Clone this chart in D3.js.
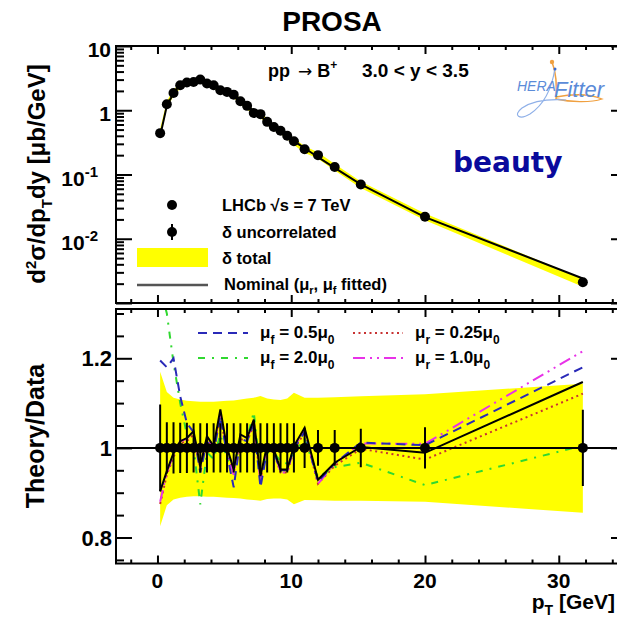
<!DOCTYPE html>
<html>
<head>
<meta charset="utf-8">
<script src="https://cdn.jsdelivr.net/npm/d3@7"></script>
<style>
  html, body { margin: 0; padding: 0; background: #fff; }
  svg { display: block; }
  text { font-family: "Liberation Sans", Arial, Helvetica, sans-serif; font-weight: bold; fill: #000; }
</style>
</head>
<body>
<svg id="chart" width="617" height="625"></svg>
<script>
// ---------------- data ----------------
const pT = [0.2, 0.7, 1.2, 1.7, 2.2, 2.7, 3.2, 3.7, 4.2, 4.7, 5.2, 5.7, 6.2, 6.7, 7.2, 7.7, 8.2, 8.7, 9.2, 9.7, 10.2, 11.0, 12.0, 13.25, 15.2, 20.0, 31.8];
const xsec = [0.44, 1.24, 1.86, 2.45, 2.7, 2.76, 3.0, 2.6, 2.45, 2.05, 1.93, 1.75, 1.38, 1.17, 0.91, 0.87, 0.66, 0.55, 0.48, 0.40, 0.33, 0.247, 0.20, 0.131, 0.070, 0.022, 0.0021];
const errUncorr = [0.097, 0.057, 0.057, 0.056, 0.056, 0.055, 0.055, 0.055, 0.055, 0.055, 0.055, 0.055, 0.055, 0.055, 0.055, 0.055, 0.055, 0.055, 0.055, 0.055, 0.055, 0.045, 0.040, 0.040, 0.043, 0.046, 0.085];
const totHi = [1.17, 1.125, 1.112, 1.108, 1.105, 1.104, 1.103, 1.103, 1.103, 1.104, 1.105, 1.106, 1.108, 1.110, 1.112, 1.116, 1.110, 1.108, 1.107, 1.110, 1.123, 1.112, 1.112, 1.113, 1.115, 1.120, 1.143];
const totLo = [0.825, 0.872, 0.885, 0.889, 0.891, 0.892, 0.892, 0.891, 0.891, 0.890, 0.889, 0.888, 0.887, 0.885, 0.884, 0.882, 0.886, 0.887, 0.887, 0.885, 0.874, 0.884, 0.883, 0.882, 0.882, 0.880, 0.855];
const rNominal = [0.903, 0.948, 0.989, 1.015, 1.022, 1.037, 0.959, 1.026, 1.004, 1.086, 1.0, 0.952, 1.030, 1.022, 1.063, 0.937, 1.007, 0.996, 0.952, 0.952, 1.004, 1.045, 0.929, 0.967, 1.002, 0.989, 1.147];
const rMuf05 = [1.195, 1.18, 1.20, 1.115, 1.055, 1.035, 0.945, 1.015, 0.99, 1.07, 0.985, 0.912, 1.02, 1.015, 1.055, 0.912, 0.995, 0.99, 0.95, 0.95, 1.0, 1.035, 0.925, 0.965, 1.012, 1.006, 1.18];
const rMuf20 = [1.36, 1.30, 1.19, 1.10, 1.03, 1.0, 0.874, 0.99, 0.975, 1.03, 0.975, 0.955, 1.02, 1.02, 1.08, 0.94, 0.99, 0.99, 0.97, 0.965, 0.99, 1.02, 0.935, 0.957, 0.967, 0.917, 1.005];
const rMur025 = [0.875, 0.94, 0.98, 1.01, 1.015, 1.03, 0.955, 1.02, 1.0, 1.07, 0.99, 0.945, 1.02, 1.015, 1.05, 0.93, 1.0, 0.99, 0.945, 0.945, 0.995, 1.035, 0.92, 0.96, 0.998, 0.974, 1.121];
const rMur10 = [0.88, 0.945, 0.985, 1.015, 1.02, 1.035, 0.955, 1.025, 1.0, 1.075, 0.99, 0.94, 1.025, 1.02, 1.06, 0.925, 1.0, 0.995, 0.945, 0.945, 1.0, 1.04, 0.92, 0.965, 1.01, 1.009, 1.216];
const xTickLabels = [0, 10, 20, 30];
const yTopDecades = [1e-2, 1e-1, 1, 10];
const yBotLabels = [0.8, 1.0, 1.2];

// ---------------- layout ----------------
const svg = d3.select("#chart");
const L = 116, R = 627;
const topP = {t: 46, b: 303};
const botP = {t: 309, b: 563.5};

const x = d3.scaleLinear().domain([-3.1, 35.1]).range([L, R]);
const yT = d3.scaleLog().domain([1e-3, 10]).range([topP.b, topP.t]);
const yB = d3.scaleLinear().domain([0.742, 1.31]).range([botP.b, botP.t]);

const idx = d3.range(pT.length);

// clip paths
const defs = svg.append("defs");
defs.append("clipPath").attr("id", "clipTop").append("rect")
  .attr("x", L).attr("y", topP.t).attr("width", R - L).attr("height", topP.b - topP.t);
defs.append("clipPath").attr("id", "clipBot").append("rect")
  .attr("x", L).attr("y", botP.t).attr("width", R - L).attr("height", botP.b - botP.t);

// ---------------- title ----------------
svg.append("text").attr("x", 332).attr("y", 31).attr("text-anchor", "middle")
  .style("font-size", "28px").text("PROSA");

// ---------------- upper panel ----------------
const gT = svg.append("g").attr("clip-path", "url(#clipTop)");
gT.append("path")
  .datum(idx)
  .attr("fill", "#ffff00")
  .attr("d", d3.area().x(i => x(pT[i])).y0(i => yT(xsec[i] * totLo[i])).y1(i => yT(xsec[i] * totHi[i])));
gT.append("path")
  .datum(idx)
  .attr("fill", "none").attr("stroke", "#000").attr("stroke-width", 2)
  .attr("d", d3.line().x(i => x(pT[i])).y(i => yT(xsec[i] * rNominal[i])));
gT.selectAll("line.eb").data(idx).join("line")
  .attr("x1", i => x(pT[i])).attr("x2", i => x(pT[i]))
  .attr("y1", i => yT(xsec[i] * (1 - errUncorr[i]))).attr("y2", i => yT(xsec[i] * (1 + errUncorr[i])))
  .attr("stroke", "#000").attr("stroke-width", 2);
gT.selectAll("circle").data(idx).join("circle")
  .attr("cx", i => x(pT[i])).attr("cy", i => yT(xsec[i])).attr("r", 5).attr("fill", "#000");

// axes helpers
function frame(p) {
  svg.append("rect").attr("x", L).attr("y", p.t).attr("width", R - L).attr("height", p.b - p.t)
    .attr("fill", "none").attr("stroke", "#000").attr("stroke-width", 2);
}
function xTicks(p) {
  const minor = d3.range(-2, 35, 2).filter(v => v % 10 !== 0);
  [[p.b, 1], [p.t, 0]].forEach(([yy, bottom]) => {
    const ax = bottom ? d3.axisBottom(x) : d3.axisTop(x);
    svg.append("g").attr("transform", `translate(0,${yy})`)
      .call(ax.tickValues(xTickLabels).tickSize(-8).tickFormat("")).call(g => g.select(".domain").remove())
      .selectAll("line").attr("stroke-width", 2);
    const ax2 = bottom ? d3.axisBottom(x) : d3.axisTop(x);
    svg.append("g").attr("transform", `translate(0,${yy})`)
      .call(ax2.tickValues(minor).tickSize(-4).tickFormat("")).call(g => g.select(".domain").remove())
      .selectAll("line").attr("stroke-width", 2);
  });
}
function yTicks(scale, major, minor) {
  [[L, d3.axisLeft], [R, d3.axisRight]].forEach(([xx, axf]) => {
    svg.append("g").attr("transform", `translate(${xx},0)`)
      .call(axf(scale).tickValues(major).tickSize(-16).tickFormat("")).call(g => g.select(".domain").remove())
      .selectAll("line").attr("stroke-width", 2);
    svg.append("g").attr("transform", `translate(${xx},0)`)
      .call(axf(scale).tickValues(minor).tickSize(-8).tickFormat("")).call(g => g.select(".domain").remove())
      .selectAll("line").attr("stroke-width", 2);
  });
}
const topMinor = [];
[-3, -2, -1, 0].forEach(d => { for (let k = 2; k <= 9; k++) topMinor.push(k * Math.pow(10, d)); });
yTicks(yT, [1e-3, 1e-2, 1e-1, 1, 10], topMinor);
xTicks(topP);
frame(topP);

// upper y labels
yTopDecades.forEach(v => {
  const t = svg.append("text").attr("y", yT(v) + 11).style("font-size", "21px").attr("text-anchor", "end");
  if (v >= 1) {
    t.attr("x", 111).text(v === 10 ? "10" : "1");
  } else {
    t.attr("x", 98);
    t.append("tspan").text("10");
    t.append("tspan").attr("dy", -9).style("font-size", "15px").text(String(Math.round(Math.log10(v))));
  }
});

// upper y axis title
const yl = svg.append("text").attr("transform", "translate(45,174) rotate(-90)")
  .attr("text-anchor", "middle").style("font-size", "24px");
yl.append("tspan").text("d");
yl.append("tspan").attr("dy", -9).style("font-size", "15px").text("2");
yl.append("tspan").attr("dy", 9).text("σ/dp");
yl.append("tspan").attr("dy", 7).style("font-size", "15px").text("T");
yl.append("tspan").attr("dy", -7).text("dy [μb/GeV]");

// process label
const pl = svg.append("text").attr("x", 268).attr("y", 77).style("font-size", "18px");
pl.append("tspan").text("pp");
pl.append("tspan").attr("dx", 8).style("font-family", "'DejaVu Sans', sans-serif").style("font-size", "17px")
  .style("font-weight", "normal").text("→");
pl.append("tspan").attr("dx", 5).text("B");
pl.append("tspan").attr("dy", -8).style("font-size", "12px").text("+");
svg.append("text").attr("x", 362).attr("y", 77).style("font-size", "19px").text("3.0 < y < 3.5");

// HERAFitter logo
const logo = svg.append("g");
logo.append("path").attr("d", "M552,62 C556,72 557,86 556,100").attr("fill", "none").attr("stroke", "#f0a040").attr("stroke-width", 1.5);
logo.append("path").attr("d", "M556,97 C572,94 590,94 602,99 C590,103 570,102 556,99").attr("fill", "none").attr("stroke", "#f0a040").attr("stroke-width", 1.3);
logo.append("path").attr("d", "M555,68 C552,88 545,104 530,114 C520,120 512,116 522,108 C534,100 550,99 566,100").attr("fill", "none").attr("stroke", "#8fb0e8").attr("stroke-width", 1.2);
logo.append("circle").attr("cx", 552).attr("cy", 62).attr("r", 2.2).attr("fill", "#f0a040");
logo.append("circle").attr("cx", 555).attr("cy", 69).attr("r", 1.5).attr("fill", "#3a6ad0");
logo.append("text").attr("x", 517).attr("y", 91).style("font-size", "14px").style("font-style", "italic")
  .style("font-weight", "normal").style("fill", "#5b8bd8").text("HERA");
logo.append("text").attr("x", 554).attr("y", 97).style("font-size", "22px").style("font-style", "italic")
  .style("font-weight", "normal").style("fill", "#5b8bd8").text("Fitter");

// beauty
svg.append("text").attr("x", 453).attr("y", 172).style("font-family", "'DejaVu Sans', sans-serif")
  .style("font-size", "28px").style("fill", "#0a0a9c").text("beauty");

// upper legend
const legFs = "16.5px";
svg.append("circle").attr("cx", 172).attr("cy", 205).attr("r", 5).attr("fill", "#000");
svg.append("text").attr("x", 222).attr("y", 211).style("font-size", legFs).text("LHCb  √s = 7 TeV");
svg.append("line").attr("x1", 172).attr("x2", 172).attr("y1", 224).attr("y2", 240).attr("stroke", "#000").attr("stroke-width", 2);
svg.append("circle").attr("cx", 172).attr("cy", 232).attr("r", 5).attr("fill", "#000");
svg.append("text").attr("x", 222).attr("y", 238).style("font-size", legFs).text("δ uncorrelated");
svg.append("rect").attr("x", 137).attr("y", 248).attr("width", 71).attr("height", 19).attr("fill", "#ffff00");
svg.append("text").attr("x", 222).attr("y", 264).style("font-size", legFs).text("δ total");
svg.append("line").attr("x1", 137).attr("x2", 208).attr("y1", 285).attr("y2", 285).attr("stroke", "#555").attr("stroke-width", 2.5);
const nl = svg.append("text").attr("x", 224).attr("y", 290).style("font-size", legFs);
nl.append("tspan").text("Nominal (μ");
nl.append("tspan").attr("dy", 4).style("font-size", "11px").text("r");
nl.append("tspan").attr("dy", -4).text(", μ");
nl.append("tspan").attr("dy", 4).style("font-size", "11px").text("f");
nl.append("tspan").attr("dy", -4).text(" fitted)");

// ---------------- lower panel ----------------
const gB = svg.append("g").attr("clip-path", "url(#clipBot)");
gB.append("path").datum(idx).attr("fill", "#ffff00")
  .attr("d", d3.area().x(i => x(pT[i])).y0(i => yB(totLo[i])).y1(i => yB(totHi[i])));

const curves = [
  {r: rMur025, color: "#c83232", dash: "2,3.5", label: ["μ", "r", " = 0.25μ", "0"], lx: 353, ly: 333},
  {r: rMur10, color: "#e832e8", dash: "12,5,2,5,2,5", label: ["μ", "r", " = 1.0μ", "0"], lx: 353, ly: 358},
  {r: rMuf20, color: "#30d830", dash: "7,7,2,7", label: ["μ", "f", " = 2.0μ", "0"], lx: 198, ly: 358},
  {r: rMuf05, color: "#2a2ab8", dash: "9,6", label: ["μ", "f", " = 0.5μ", "0"], lx: 198, ly: 333}
];
curves.forEach(c => {
  gB.append("path").datum(idx).attr("fill", "none").attr("stroke", c.color).attr("stroke-width", 2)
    .attr("stroke-dasharray", c.dash)
    .attr("d", d3.line().x(i => x(pT[i])).y(i => yB(c.r[i])));
});
gB.append("path").datum(idx).attr("fill", "none").attr("stroke", "#000").attr("stroke-width", 2)
  .attr("d", d3.line().x(i => x(pT[i])).y(i => yB(rNominal[i])));
gB.append("line").attr("x1", L).attr("x2", R).attr("y1", yB(1)).attr("y2", yB(1))
  .attr("stroke", "#000").attr("stroke-width", 2);
gB.selectAll("line.eb").data(idx).join("line").attr("class", "eb")
  .attr("x1", i => x(pT[i])).attr("x2", i => x(pT[i]))
  .attr("y1", i => yB(1 - errUncorr[i])).attr("y2", i => yB(1 + errUncorr[i]))
  .attr("stroke", "#000").attr("stroke-width", 2);
gB.selectAll("circle").data(idx).join("circle")
  .attr("cx", i => x(pT[i])).attr("cy", yB(1)).attr("r", 5).attr("fill", "#000");

// lower legend
curves.forEach(c => {
  svg.append("line").attr("x1", c.lx).attr("x2", c.lx + 50).attr("y1", c.ly).attr("y2", c.ly)
    .attr("stroke", c.color).attr("stroke-width", 2).attr("stroke-dasharray", c.dash);
  const t = svg.append("text").attr("x", c.lx + 62).attr("y", c.ly + 5).style("font-size", "17px");
  t.append("tspan").text(c.label[0]);
  t.append("tspan").attr("dy", 6).style("font-size", "12px").text(c.label[1]);
  t.append("tspan").attr("dy", -6).text(c.label[2]);
  t.append("tspan").attr("dy", 6).style("font-size", "12px").text(c.label[3]);
});

// lower axes
const botMinor = d3.range(0.75, 1.31, 0.05).map(v => +v.toFixed(2)).filter(v => !yBotLabels.some(m => Math.abs(m - v) < 1e-6));
yTicks(yB, yBotLabels, botMinor);
xTicks(botP);
frame(botP);

yBotLabels.forEach(v => {
  svg.append("text").attr("x", 112).attr("y", yB(v) + 8).attr("text-anchor", "end")
    .style("font-size", "22px").text(v === 1 ? "1" : v.toFixed(1));
});
xTickLabels.forEach(v => {
  svg.append("text").attr("x", x(v)).attr("y", 588).attr("text-anchor", "middle")
    .style("font-size", "21px").text(v);
});

// lower y title
svg.append("text").attr("transform", "translate(44,436) rotate(-90)").attr("text-anchor", "middle")
  .style("font-size", "25px").text("Theory/Data");

// x title
const xl = svg.append("text").attr("x", 615).attr("y", 609).attr("text-anchor", "end").style("font-size", "21px");
xl.append("tspan").text("p");
xl.append("tspan").attr("dy", 6).style("font-size", "14px").text("T");
xl.append("tspan").attr("dy", -6).text(" [GeV]");
</script>
</body>
</html>
